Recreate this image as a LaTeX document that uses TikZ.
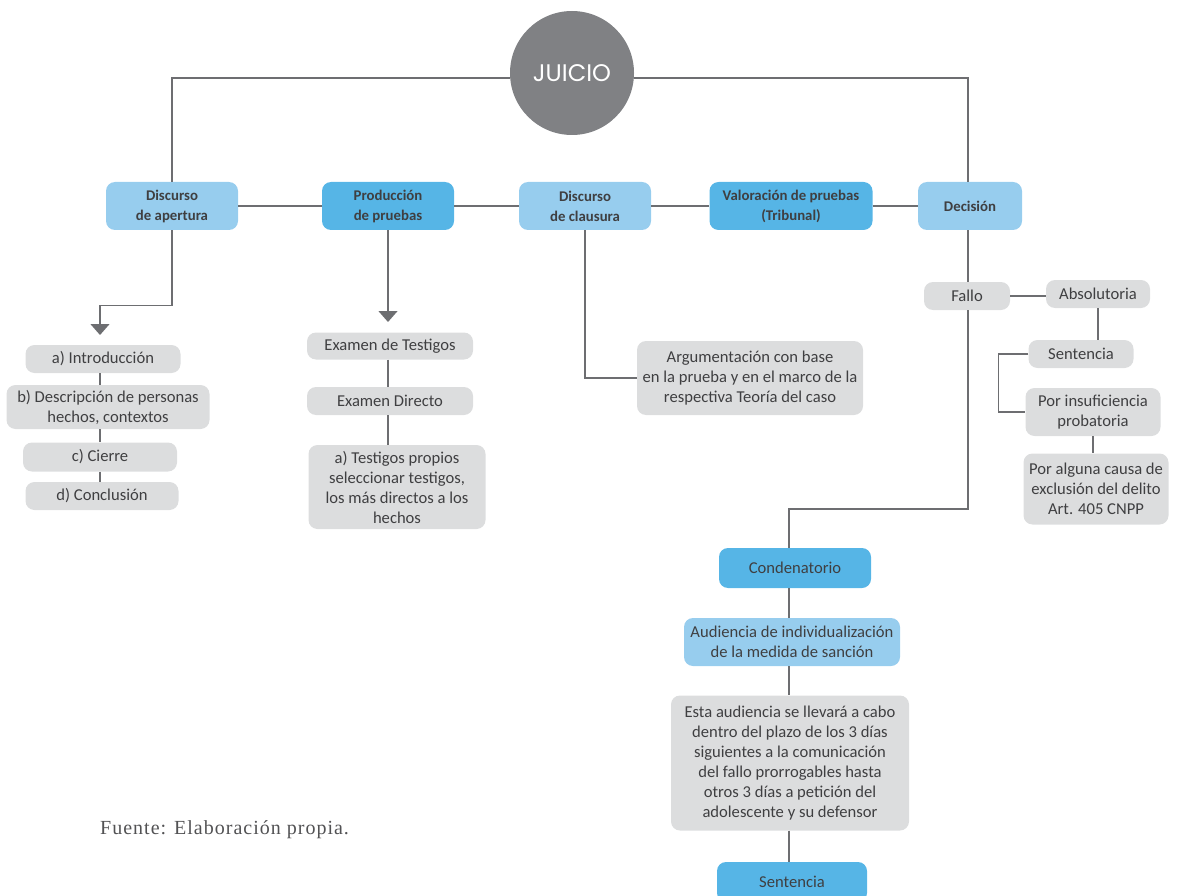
\documentclass[tikz,border=0pt]{standalone}
\usepackage{fontspec}
\setmainfont{Carlito}
\newfontfamily\juiciofont{Poppins}
\newfontfamily\fuentefont[LetterSpace=5]{Liberation Serif}
\usetikzlibrary{arrows.meta}
\definecolor{lightblue}{HTML}{97CDEE}
\definecolor{darkblue}{HTML}{56B5E6}
\definecolor{boxgray}{HTML}{DCDDDE}
\definecolor{linegray}{HTML}{6D6E71}
\definecolor{textgray}{HTML}{3F3F41}
\definecolor{circlegray}{HTML}{808184}

\begin{document}
\begin{tikzpicture}[x=1pt,y=-1pt]
	\tikzset{box/.style = {rounded corners=9pt,align=center,inner sep=0pt,text=textgray,font=\fontsize{16.6}{20}\selectfont}}
	\tikzset{wh/.style 2 args = {minimum width=#1pt,minimum height=#2pt}}
	\tikzstyle{grey} = [box,fill=boxgray]
	\tikzstyle{light} = [box,fill=lightblue,font=\bfseries\fontsize{14.8}{20}\selectfont]
	\tikzstyle{dark} = [box,fill=darkblue,font=\bfseries\fontsize{14.8}{20}\selectfont]
	\tikzstyle{edge} = [linegray,line width=1.4pt]
	\tikzstyle{edgeArrow} = [edge,-{Triangle[width=19pt,length=11pt]}]
	\useasboundingbox (0,0) rectangle (1178,896);
	%juicio
	\node[circle,fill=circlegray,minimum size=124pt,text=white,font=\juiciofont\fontsize{24}{24}\selectfont] (juicio) at (572,73) {JUICIO};
	%etapas
	\node[light,wh={132}{48}] (apertura) at (172,206) {Discurso\\de apertura};
	\node[dark,wh={132}{48}] (produccion) at (388,206) {Producción\\de pruebas};
	\node[light,wh={132}{48}] (clausura) at (585,206) {Discurso\\de clausura};
	\node[dark,wh={163}{48}] (valoracion) at (791,206) {Valoración de pruebas\\(Tribunal)};
	\node[light,wh={104}{48}] (decision) at (970,206) {Decisión};
	\draw[edge] (apertura.north) |- ([yshift=-5pt]juicio.west);
	\draw[edge] ([yshift=-5pt]juicio.east) -| ([xshift=-2pt]decision.north);
	\draw[edge] (apertura.east) -- (produccion.west);
	\draw[edge] (produccion.east) -- (clausura.west);
	\draw[edge] (clausura.east) -- (valoracion.west);
	\draw[edge] (valoracion.east) -- (decision.west);
	%apertura
	\coordinate (aperturaTip) at (100,335);
	\node[grey,wh={155}{28}] (intro) at (103,359) {a) Introducción};
	\node[grey,wh={203}{44}] (descripcion) at (108,407) {b) Descripción de personas\\hechos, contextos};
	\node[grey,wh={154}{29}] (cierre) at (100,457) {c) Cierre};
	\node[grey,wh={153}{28}] (conclusion) at (102,496) {d) Conclusión};
	\draw[edgeArrow] (apertura.south) -- ++(0,75) -| (aperturaTip);
	\draw[edge] (intro.south -| aperturaTip) -- (descripcion.north -| aperturaTip);
	\draw[edge] (descripcion.south -| aperturaTip) -- (cierre.north -| aperturaTip);
	\draw[edge] (cierre.south -| aperturaTip) -- (conclusion.north -| aperturaTip);
	%produccion
	\coordinate (pruebasTip) at (388,322);
	\node[grey,wh={166}{27}] (testigos) at (390,346) {Examen de Testigos};
	\node[grey,wh={166}{28}] (directo) at (390,401) {Examen Directo};
	\node[grey,wh={177}{84}] (propios) at (397,487) {a) Testigos propios\\seleccionar testigos,\\los más directos a los\\hechos};
	\draw[edgeArrow] (produccion.south) -- (pruebasTip);
	\draw[edge] (testigos.south -| pruebasTip) -- (directo.north -| pruebasTip);
	\draw[edge] (directo.south -| pruebasTip) -- (propios.north -| pruebasTip);
	%clausura
	\node[grey,wh={226}{74}] (argumentacion) at (750,378) {Argumentación con base\\en la prueba y en el marco de la\\respectiva Teoría del caso};
	\draw[edge] (clausura.south) |- (argumentacion.west);
	%decision
	\node[grey,wh={86}{28}] (fallo) at (967,296) {Fallo};
	\node[grey,wh={104}{28}] (absolutoria) at (1098,294) {Absolutoria};
	\node[grey,wh={105}{28}] (sentenciaA) at (1081,354) {Sentencia};
	\node[grey,wh={135}{48}] (insuficiencia) at (1093,412) {Por insuficiencia\\probatoria};
	\node[grey,wh={145}{71}] (exclusion) at (1096,489) {Por alguna causa de\\exclusión del delito\\Art. 405 CNPP};
	\draw[edge] ([xshift=-2pt]decision.south) -- ([xshift=1pt]fallo.north);
	\draw[edge] (fallo.east) -- (fallo.east -| absolutoria.west);
	\draw[edge] (absolutoria.south) -- (absolutoria.south |- sentenciaA.north);
	\draw[edge] (sentenciaA.west) -- ++(-30,0) |- (insuficiencia.west);
	\draw[edge] (insuficiencia.south) -- (insuficiencia.south |- exclusion.north);
	%condenatorio
	\coordinate (cond) at (789,509);
	\node[dark,font=\fontsize{16.6}{20}\selectfont,wh={152}{40}] (condenatorio) at (795,568) {Condenatorio};
	\node[light,font=\fontsize{16.6}{20}\selectfont,wh={216}{48}] (audiencia) at (792,642) {Audiencia de individualización\\de la medida de sanción};
	\node[grey,wh={238}{135}] (plazo) at (790,763) {Esta audiencia se llevará a cabo\\dentro del plazo de los 3 días\\siguientes a la comunicación\\del fallo prorrogables hasta\\otros 3 días a petición del\\adolescente y su defensor};
	\node[dark,font=\fontsize{16.6}{20}\selectfont,wh={150}{40}] (sentenciaB) at (792,882) {Sentencia};
	\draw[edge] ([xshift=1pt]fallo.south) |- (cond) -- (cond |- condenatorio.north);
	\draw[edge] (condenatorio.south -| cond) -- (audiencia.north -| cond);
	\draw[edge] (audiencia.south -| cond) -- (plazo.north -| cond);
	\draw[edge] (plazo.south -| cond) -- (sentenciaB.north -| cond);
	%fuente
	\node[anchor=base west,inner sep=0pt,text=textgray!90,font=\fuentefont\fontsize{20}{20}\selectfont] (fuente) at (100,834) {Fuente: Elaboración propia.};
\end{tikzpicture}
\end{document}
